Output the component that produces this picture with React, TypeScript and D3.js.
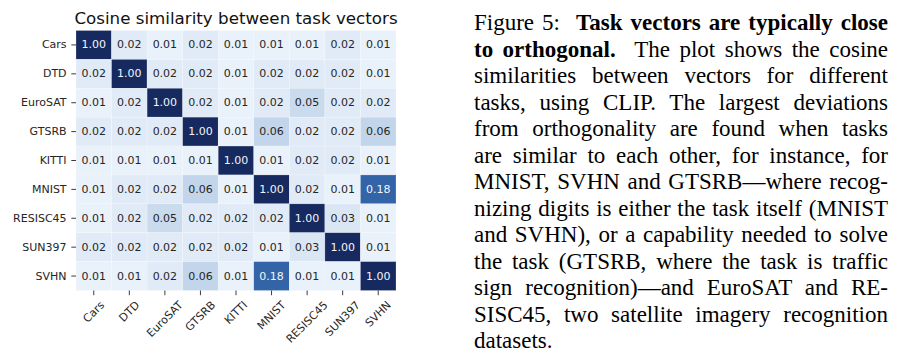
import React, { useRef, useEffect } from 'react';
import * as d3 from 'd3';

const tasks = ['Cars', 'DTD', 'EuroSAT', 'GTSRB', 'KITTI', 'MNIST', 'RESISC45', 'SUN397', 'SVHN'];

const rowCars = [1.0, 0.02, 0.01, 0.02, 0.01, 0.01, 0.01, 0.02, 0.01];
const rowDTD = [0.02, 1.0, 0.02, 0.02, 0.01, 0.02, 0.02, 0.02, 0.01];
const rowEuroSAT = [0.01, 0.02, 1.0, 0.02, 0.01, 0.02, 0.05, 0.02, 0.02];
const rowGTSRB = [0.02, 0.02, 0.02, 1.0, 0.01, 0.06, 0.02, 0.02, 0.06];
const rowKITTI = [0.01, 0.01, 0.01, 0.01, 1.0, 0.01, 0.02, 0.02, 0.01];
const rowMNIST = [0.01, 0.02, 0.02, 0.06, 0.01, 1.0, 0.02, 0.01, 0.18];
const rowRESISC45 = [0.01, 0.02, 0.05, 0.02, 0.02, 0.02, 1.0, 0.03, 0.01];
const rowSUN397 = [0.02, 0.02, 0.02, 0.02, 0.02, 0.01, 0.03, 1.0, 0.01];
const rowSVHN = [0.01, 0.01, 0.02, 0.06, 0.01, 0.18, 0.01, 0.01, 1.0];

const matrix = [rowCars, rowDTD, rowEuroSAT, rowGTSRB, rowKITTI, rowMNIST, rowRESISC45, rowSUN397, rowSVHN];

const title = 'Cosine similarity between task vectors';

// caption lines, each a list of [text, bold]
const captionLines: [string, boolean][][] = [
    [['Figure 5:  ', false], ['Task vectors are typically close', true]],
    [['to orthogonal.', true], ['  The plot shows the cosine', false]],
    [['similarities between vectors for different', false]],
    [['tasks, using CLIP. The largest deviations', false]],
    [['from orthogonality are found when tasks', false]],
    [['are similar to each other, for instance, for', false]],
    [['MNIST, SVHN and GTSRB\u2014where recog-', false]],
    [['nizing digits is either the task itself (MNIST', false]],
    [['and SVHN), or a capability needed to solve', false]],
    [['the task (GTSRB, where the task is traffic', false]],
    [['sign recognition)\u2014and EuroSAT and RE-', false]],
    [['SISC45, two satellite imagery recognition', false]],
    [['datasets.', false]],
];

const W = 902;
const H = 359;

const App = () => {
    const svgRef = useRef<SVGSVGElement>(null);

    useEffect(() => {
        const svg = d3.select(svgRef.current);
        svg.selectAll('*').remove();

        const left = 76, right = 396, top = 30.5, bottom = 290.5;
        const font = '"DejaVu Sans", sans-serif';
        const fs = 11;

        const x = d3.scaleBand().domain(tasks).range([left, right]);
        const y = d3.scaleBand().domain(tasks).range([top, bottom]);

        const color = d3.scaleLinear<string>()
            .domain([0, 0.06, 0.18, 1])
            .range(['#f1f6fd', '#c2d5ea', '#3364a8', '#162a5f'])
            .interpolate(d3.interpolateRgb);

        const cells = matrix.flatMap((row, i) => row.map((v, j) => ({ r: tasks[i], c: tasks[j], v })));

        const g = svg.append('g');

        g.selectAll('rect.cell')
            .data(cells)
            .enter().append('rect')
            .attr('class', 'cell')
            .attr('x', d => x(d.c)!)
            .attr('y', d => y(d.r)!)
            .attr('width', x.bandwidth())
            .attr('height', y.bandwidth())
            .attr('fill', d => color(d.v))
            .attr('stroke', '#ffffff')
            .attr('stroke-opacity', 0.35)
            .attr('stroke-width', 0.6);

        g.selectAll('text.val')
            .data(cells)
            .enter().append('text')
            .attr('class', 'val')
            .attr('x', d => x(d.c)! + x.bandwidth() / 2)
            .attr('y', d => y(d.r)! + y.bandwidth() / 2)
            .attr('text-anchor', 'middle')
            .attr('dominant-baseline', 'central')
            .style('font-family', font)
            .style('font-size', `${fs}px`)
            .attr('fill', d => d.v > 0.12 ? '#f2f5fa' : '#262626')
            .text(d => d.v.toFixed(2));

        // y axis
        const yAxis = g.append('g');
        tasks.forEach(t => {
            const cy = y(t)! + y.bandwidth() / 2;
            yAxis.append('line')
                .attr('x1', left - 4.7).attr('x2', left)
                .attr('y1', cy).attr('y2', cy)
                .attr('stroke', '#262626').attr('stroke-width', 0.9);
            yAxis.append('text')
                .attr('x', left - 9.4)
                .attr('y', cy)
                .attr('text-anchor', 'end')
                .attr('dominant-baseline', 'central')
                .style('font-family', font)
                .style('font-size', `${fs}px`)
                .attr('fill', '#262626')
                .text(t);
        });

        // x axis, rotated labels centred under each tick
        const xAxis = g.append('g');
        tasks.forEach(t => {
            const cx = x(t)! + x.bandwidth() / 2;
            xAxis.append('line')
                .attr('x1', cx).attr('x2', cx)
                .attr('y1', bottom).attr('y2', bottom + 4.7)
                .attr('stroke', '#262626').attr('stroke-width', 0.9);
            const label = xAxis.append('text')
                .attr('text-anchor', 'middle')
                .attr('dominant-baseline', 'central')
                .style('font-family', font)
                .style('font-size', `${fs}px`)
                .attr('fill', '#262626')
                .text(t);
            const w = (label.node() as SVGTextElement).getComputedTextLength();
            const h = fs * 0.85;
            const half = (w + h) / (2 * Math.SQRT2);
            const cy = bottom + 4.7 + 4.7 + half;
            label.attr('transform', `translate(${cx},${cy}) rotate(-45)`);
        });

        svg.append('text')
            .attr('x', (left + right) / 2)
            .attr('y', 24)
            .attr('text-anchor', 'middle')
            .style('font-family', font)
            .style('font-size', '16.7px')
            .attr('fill', '#111')
            .text(title);

        // caption, justified line by line
        const capLeft = 474, capRight = 888;
        const cap = svg.append('g');
        captionLines.forEach((parts, i) => {
            const line = cap.append('text')
                .attr('x', capLeft)
                .attr('y', 30 + i * 26.5)
                .attr('xml:space', 'preserve')
                .style('white-space', 'pre')
                .style('font-family', '"Liberation Serif", "Times New Roman", serif')
                .style('font-size', '23px')
                .attr('fill', '#000');
            parts.forEach(([s, b]) => {
                line.append('tspan')
                    .style('font-weight', b ? 'bold' : 'normal')
                    .text(s);
            });
            if (i < captionLines.length - 1) {
                const full = parts.map(p => p[0]).join('');
                const spaces = (full.match(/ /g) || []).length;
                const natural = (line.node() as SVGTextElement).getComputedTextLength();
                const extra = (capRight - capLeft - natural) / spaces;
                line.style('word-spacing', `${extra}px`);
            }
        });
    }, []);

    return (
        <div style={{ position: 'absolute', left: 0, top: 0 }}>
            <svg ref={svgRef} width={W} height={H} style={{ display: 'block', background: '#fff' }}></svg>
        </div>
    );
};

export default App;
